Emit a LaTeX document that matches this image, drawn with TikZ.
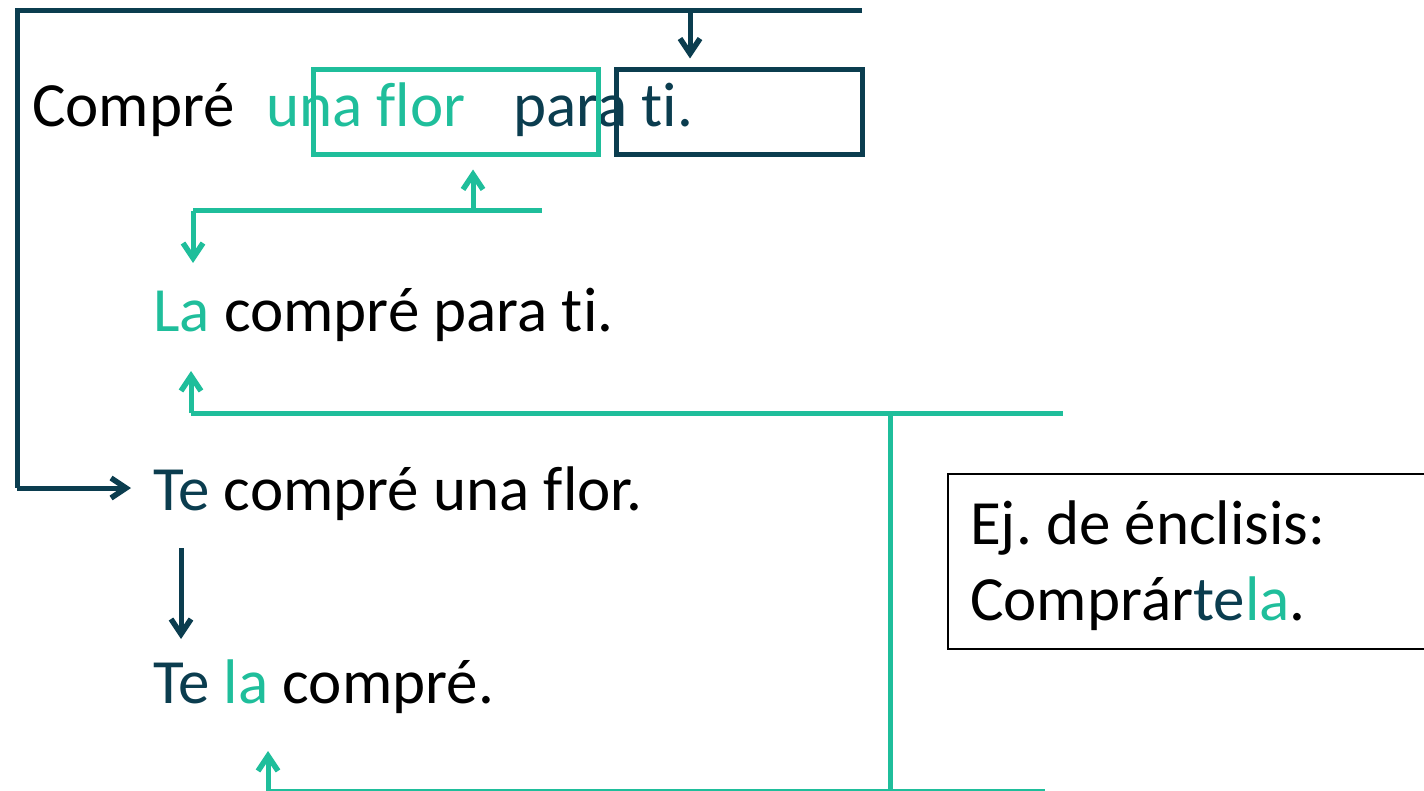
\documentclass[tikz,border=0pt]{standalone}
\usepackage{fontspec}
\setmainfont[Ligatures=NoCommon]{Carlito}
\usetikzlibrary{arrows.meta}
\definecolor{dk}{HTML}{0B3D4F}
\definecolor{tl}{HTML}{1FBE9B}
\frenchspacing
\begin{document}
\begin{tikzpicture}[x=1pt,y=-1pt,
  txt/.style={anchor=base west,inner sep=0pt,font=\fontsize{63}{75}\selectfont},
  dkline/.style={draw=dk,line width=5pt},
  tlline/.style={draw=tl,line width=5pt},
  arr/.style={-{Straight Barb[length=15pt,width=20pt,line width=5.5pt]}},
  wbox/.style={rectangle,inner sep=0pt,line width=5pt}]
\useasboundingbox (0,0) rectangle (1424,791);
% sentence 1
\node[txt] (c1) at (32,127) {Compré};
\node[txt,text=tl] (c2) at (266,127) {una flor};
\node[txt,text=dk] (c3) at (513,127) {para ti.};
\node[wbox,draw=tl,minimum width=285pt,minimum height=85pt] (bx1) at (455.5,112.5) {};
\node[wbox,draw=dk,minimum width=246pt,minimum height=85pt] (bx2) at (739,112.5) {};
% sentences
\node[txt] (s2) at (153,332) {\textcolor{tl}{La} compré para ti.};
\node[txt] (s3) at (153,510) {\textcolor{dk}{Te} compré una flor.};
\node[txt] (s4) at (153,703) {\textcolor{dk}{Te} \textcolor{tl}{la} compré.};
% example box
\node[draw=black,line width=2pt,minimum width=480pt,minimum height=175pt,inner sep=0pt] (ex) at (1188,561.5) {};
\node[txt] (e1) at (970,544) {Ej. de énclisis:};
\node[txt] (e2) at (970,620) {Compr\'ar\textcolor{dk}{te}\textcolor{tl}{la}.};
% dark connectors
\coordinate (tr) at (862,11);
\coordinate (tl0) at (17,11);
\coordinate (lb) at (17,488);
\coordinate (le) at (131,488);
\coordinate (d1) at (690,11);
\draw[dkline] (tr) -- (tl0) -- (lb);
\draw[dkline,arr] (lb) -- (le);
\draw[dkline,arr,shorten >=9pt] (d1) -- (d1 |- bx2.north);
\coordinate (d2s) at (181,548);
\coordinate (d2e) at (181,639);
\draw[dkline,arr] (d2s) -- (d2e);
% teal connectors 1
\coordinate (h1a) at (193,211);
\coordinate (h1b) at (542,211);
\coordinate (u1) at (473,211);
\coordinate (dd1) at (193,263);
\draw[tlline] (h1a) -- (h1b);
\draw[tlline,arr,shorten >=12pt] (u1) -- (u1 |- bx1.south);
\draw[tlline,arr] (h1a) -- (dd1);
% teal connectors 2
\coordinate (h2a) at (191,413);
\coordinate (h2b) at (1063,413);
\coordinate (ua) at (191,371);
\coordinate (v2) at (890,413);
\coordinate (v2b) at (890,792);
\coordinate (b1) at (268,791);
\coordinate (b2) at (1045,791);
\coordinate (ub) at (268,751);
\draw[tlline] (h2a) -- (h2b);
\draw[tlline,arr] (h2a) -- (ua);
\draw[tlline] (v2) -- (v2b);
\draw[tlline] (b1) -- (b2);
\draw[tlline,arr] (b1) -- (ub);
\end{tikzpicture}
\end{document}
